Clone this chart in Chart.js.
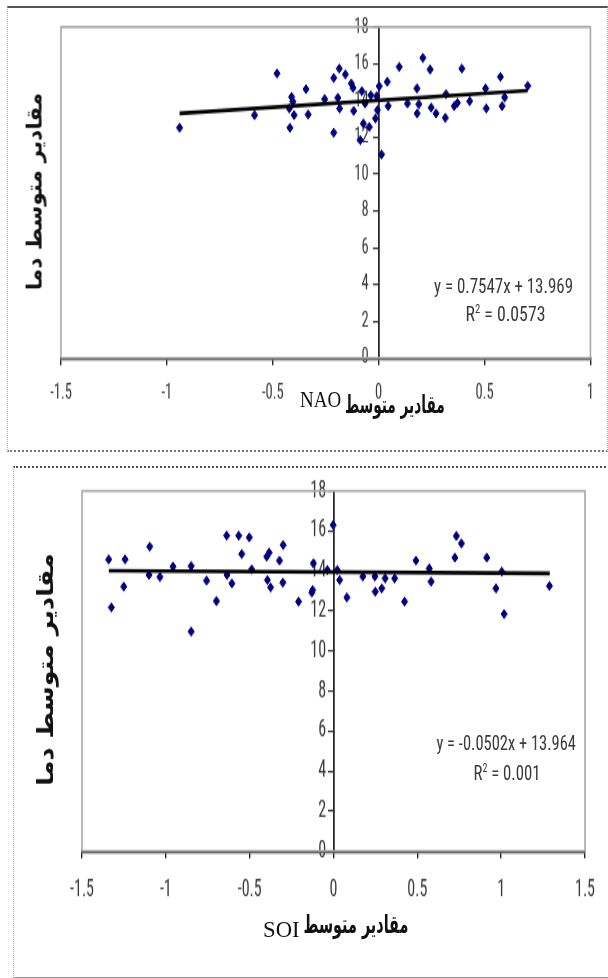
<!DOCTYPE html>
<html><head><meta charset="utf-8">
<script src="https://cdn.jsdelivr.net/npm/chart.js@4.4.1/dist/chart.umd.min.js"></script>
<style>
html,body{margin:0;padding:0;background:#fff;width:608px;height:978px;overflow:hidden;position:relative}
.frame{position:absolute;box-sizing:border-box}
.wrap{position:absolute;transform-origin:0 0}
.lbl{position:absolute;white-space:nowrap;transform-origin:50% 50%;display:inline-block;line-height:1}
.num{font-family:'Liberation Sans Narrow','Arial Narrow','Roboto Condensed','DejaVu Sans Condensed',sans-serif;color:#3a3a3a;font-size:14px}
.ar{font-family:'DejaVu Sans',sans-serif;font-weight:bold;color:#111;font-size:17px}
.lat{font-family:'Liberation Serif','Times New Roman',serif;color:#111;font-size:19px}
</style></head><body>
<div class="frame" style="left:7px;top:6px;width:601px;height:446px;border-top:2px solid #555;border-left:1px dotted #aaa;border-right:1px dotted #aaa;border-bottom:2px dotted #777"></div>
<div class="frame" style="left:13px;top:466px;width:600px;height:512px;border-top:2px dotted #555;border-left:1px dotted #aaa;border-bottom:1px solid #999"></div>
<div class="wrap" id="w1" style="left:8px;top:7px;width:597px;height:308px"><canvas id="c1"></canvas></div>
<div class="wrap" id="w2" style="left:14px;top:467px;width:594px;height:354px"><canvas id="c2"></canvas></div>

<div class="lbl num" id="eq1">y = 0.7547x + 13.969</div>
<div class="lbl num" id="r1">R<sup style="font-size:0.6em">2</sup> = 0.0573</div>
<div class="lbl num" id="eq2">y = -0.0502x + 13.964</div>
<div class="lbl num" id="r2">R<sup style="font-size:0.6em">2</sup> = 0.001</div>
<div class="lbl lat" id="xl1a">NAO</div>
<div class="lbl ar" id="xl1b">مقادیر متوسط</div>
<div class="lbl lat" id="xl2a">SOI</div>
<div class="lbl ar" id="xl2b">مقادیر متوسط</div>
<div class="lbl ar" id="yl1">مقادیر متوسط دما</div>
<div class="lbl ar" id="yl2">مقادیر متوسط دما</div>

<script>
// ---------- data ----------
const naoIndex = [-0.94,-0.586,-0.48,-0.419,-0.422,-0.411,-0.405,-0.399,-0.343,-0.333,-0.255,-0.212,-0.212,-0.186,-0.193,-0.184,-0.157,-0.129,-0.121,-0.118,-0.087,-0.079,-0.072,-0.064,-0.044,-0.037,-0.015,-0.009,-0.006,0.003,0.014,0.041,0.045,0.097,0.136,0.181,0.182,0.19,0.209,0.243,0.248,0.271,0.315,0.318,0.357,0.372,0.393,0.43,0.505,0.508,0.575,0.583,0.595,0.704];
const naoTemp  = [12.52,13.21,15.47,12.52,13.57,14.2,13.95,13.21,14.62,13.24,14.08,15.23,12.25,15.74,14.15,13.57,15.42,14.93,14.69,13.44,11.85,14.51,12.75,13.84,12.57,14.29,13.03,14.24,13.48,14.78,11.07,15.02,13.70,15.83,13.84,14.66,13.30,13.80,16.32,15.69,13.62,13.30,13.06,14.35,13.70,13.88,15.74,13.97,14.66,13.57,15.29,13.70,14.17,14.80];
const naoTrendX = [-0.94, 0.704];
const naoTrendY = [13.3, 14.55];

const soiIndex = [-1.341,-1.325,-1.243,-1.251,-1.096,-1.1,-1.035,-0.957,-0.849,-0.849,-0.757,-0.698,-0.637,-0.635,-0.606,-0.565,-0.547,-0.502,-0.488,-0.398,-0.384,-0.394,-0.375,-0.322,-0.3,-0.302,-0.208,-0.124,-0.12,-0.129,-0.037,-0.002,0.022,0.037,0.08,0.175,0.247,0.249,0.288,0.308,0.365,0.424,0.492,0.571,0.582,0.724,0.733,0.763,0.914,0.969,1.004,1.018,1.288];
const soiTemp  = [14.58,12.18,14.58,13.22,15.22,13.8,13.7,14.22,14.25,10.97,13.52,12.5,15.77,13.8,13.38,15.77,14.85,15.68,14.08,14.72,14.92,13.55,13.18,14.52,15.3,13.42,12.47,13.05,14.38,12.92,14.05,16.3,14.05,13.55,12.68,13.72,13.72,12.97,13.13,13.63,13.63,12.47,14.52,14.13,13.47,14.67,15.75,15.38,14.67,13.13,13.97,11.85,13.25];
const soiTrendX = [-1.34, 1.29];
const soiTrendY = [14.02, 13.88];

const naoXTicks = [-1.5,-1,-0.5,0,0.5,1];
const soiXTicks = [-1.5,-1,-0.5,0,0.5,1,1.5];
const tempTicks = [0,2,4,6,8,10,12,14,16,18];

// ---------- chart ----------
const S = 1.44; // vertical stretch of the reference picture
const TF = "'Liberation Sans Narrow','Arial Narrow','Roboto Condensed','DejaVu Sans Condensed',sans-serif";

const plotBorder = {
  id: 'plotBorder',
  beforeDatasetsDraw(chart) {
    const a = chart.chartArea, ctx = chart.ctx;
    ctx.save();
    ctx.strokeStyle = '#a8a8a8';
    ctx.lineWidth = 1.6;
    ctx.strokeRect(a.left, a.top, a.right - a.left, a.bottom - a.top);
    ctx.restore();
  }
};

function makeChart(id, xs, ys, tx, ty, xTicks, xMin, xMax, g) {
  const pts = xs.map((x, i) => ({x: x, y: ys[i]}));
  const trend = tx.map((x, i) => ({x: x, y: ty[i]}));
  return new Chart(document.getElementById(id), {
    type: 'scatter',
    data: { datasets: [
      { data: pts, pointStyle: 'rectRot', pointRadius: 3.1, backgroundColor: '#00007e', borderColor: '#00007e', borderWidth: 1, showLine: false, order: 1 },
      { data: trend, showLine: true, borderColor: '#000', borderWidth: 2.6, pointRadius: 0, order: 0 }
    ]},
    options: {
      responsive: true, maintainAspectRatio: false, animation: false,
      layout: { padding: { left: g.left, right: g.right, top: g.top, bottom: 0 } },
      plugins: { legend: { display: false }, tooltip: { enabled: false } },
      scales: {
        x: {
          type: 'linear', min: xMin, max: xMax, position: 'bottom',
          afterBuildTicks: s => { s.ticks = xTicks.map(v => ({value: v})); },
          afterFit: s => { s.height = g.xh; },
          grid: { display: true, drawOnChartArea: false, drawTicks: true, tickLength: 5, color: '#222', lineWidth: 1.4 },
          border: { display: true, color: '#1a1a1a', width: 2.2 },
          ticks: { font: { family: TF, size: g.fs }, color: '#3a3a3a', padding: g.pad, maxRotation: 0, autoSkip: false, callback: v => String(v) }
        },
        y: {
          type: 'linear', min: 0, max: 18, position: { x: 0 },
          afterBuildTicks: s => { s.ticks = tempTicks.map(v => ({value: v})); },
          grid: { display: true, drawOnChartArea: false, drawTicks: true, tickLength: 5, color: '#333', lineWidth: 1.2 },
          border: { display: true, color: '#2a2a2a', width: 1.8 },
          ticks: { font: { family: TF, size: g.fs }, color: '#3a3a3a', autoSkip: false, callback: v => String(v) + g.suf }
        }
      }
    },
    plugins: [plotBorder]
  });
}

makeChart('c1', naoIndex, naoTemp, naoTrendX, naoTrendY, naoXTicks, -1.5, 1,
  { left: 53, right: 9, top: 20 / S, xh: 308 - 351 / S, fs: 14.5, pad: 11, suf: '   ' });
makeChart('c2', soiIndex, soiTemp, soiTrendX, soiTrendY, soiXTicks, -1.5, 1.5,
  { left: 68, right: 16, top: 24 / S, xh: 354 - 384 / S, fs: 16, pad: 13, suf: '  ' });

document.getElementById('w1').style.transform = 'scaleY(' + S + ')';
document.getElementById('w2').style.transform = 'scaleY(' + S + ')';

// ---------- text placement ----------
function place(id, cx, cy, w, sy, rot) {
  const el = document.getElementById(id);
  const nw = el.offsetWidth, nh = el.offsetHeight;
  el.style.left = (cx - nw / 2) + 'px';
  el.style.top = (cy - nh / 2) + 'px';
  const sx = w / nw;
  el.style.transform = (rot ? 'rotate(' + rot + 'deg) ' : '') + 'scale(' + sx + ',' + sy + ')';
}
function layoutText() {
  place('eq1', 503.5, 285.5, 139, S);
  place('r1', 505, 313, 80, S);
  place('eq2', 505.5, 743, 139, S);
  place('r2', 506.5, 772, 67, S);
  place('xl1a', 320.5, 399, 41, 1.2);
  place('xl1b', 395, 405, 100, 1.45);
  place('xl2a', 281, 929, 37, 1.2);
  place('xl2b', 355.5, 924, 105, 1.5);
  place('yl1', 34, 191, 197, 1.25, -90);
  place('yl2', 45, 669, 232, 1.3, -90);
}
layoutText();
if (document.fonts && document.fonts.ready) document.fonts.ready.then(layoutText);
</script>
</body></html>
